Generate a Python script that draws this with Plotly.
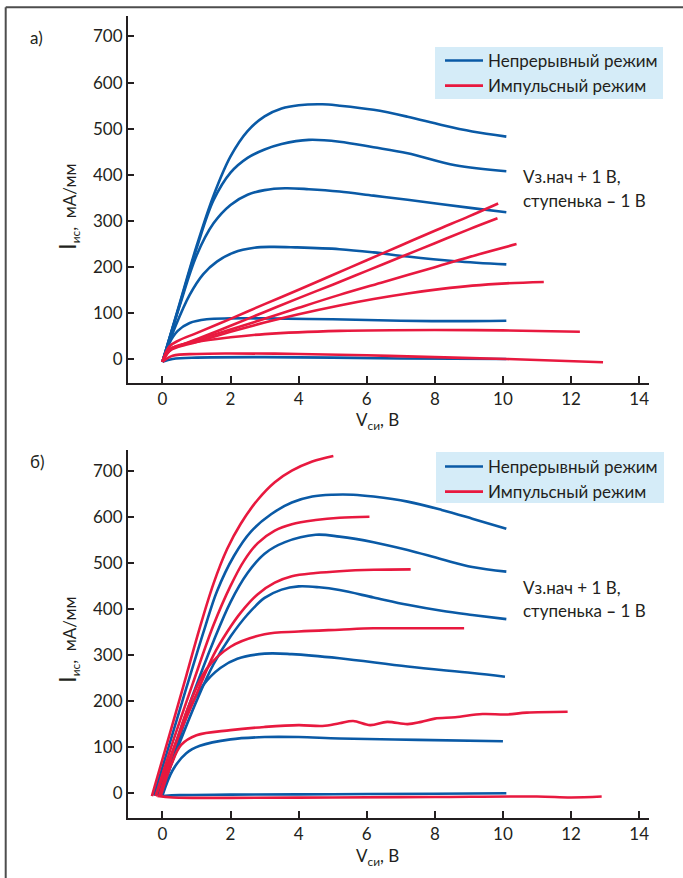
import plotly.graph_objects as go

W, H = 683, 878
BLUE = "#0a5aa6"
RED = "#e8193f"
TXT = "#231f20"
LEGBG = "#d5ecf8"
FONT = "Lato, 'Noto Sans', sans-serif"

# ---------------- data: panel а) ----------------
# continuous (CW) curves: drain voltage V, current mA/mm
a_cw_v = [
    [0, 0.5, 1.0, 1.5, 2.0, 2.5, 3.0, 3.5, 4.0, 4.7, 5.2, 6.2, 7.2, 8.2, 9.1, 10.1],
    [0, 0.5, 1.0, 1.5, 2.0, 2.5, 3.0, 3.5, 4.3, 5.2, 6.2, 7.2, 8.6, 10.1],
    [0, 0.5, 1.0, 1.5, 2.0, 2.5, 3.0, 3.6, 4.3, 5.2, 6.2, 7.2, 9.1, 10.1],
    [0, 0.4, 0.8, 1.2, 1.6, 2.1, 2.7, 3.2, 3.9, 5.2, 6.2, 7.2, 8.6, 10.1],
    [0, 0.2, 0.45, 0.8, 1.3, 2.0, 3.0, 5.0, 7.0, 8.5, 10.1],
    [0, 0.3, 1.0, 3.0, 5.0, 7.0, 10.1],
]
a_cw_i = [
    [-5, 120, 245, 355, 440, 495, 527, 544, 551, 553, 550, 541, 526, 508, 494, 483],
    [-5, 118, 240, 345, 405, 437, 455, 467, 476, 472, 460, 447, 421, 408],
    [-5, 115, 225, 295, 335, 357, 367, 371, 369, 364, 355, 346, 328, 319],
    [-5, 75, 140, 185, 212, 232, 242, 244, 243, 239, 232, 223, 213, 206],
    [-5, 35, 62, 79, 87, 89, 89, 87, 84, 83, 84],
    [-5, 1, 4, 5, 4, 2, 1],
]
# pulsed curves
a_pl_v = [
    [0, 0.2, 0.5, 1.0, 2.0, 3.0, 4.0, 5.0, 6.0, 7.0, 8.0, 9.0, 9.86],
    [0, 0.2, 0.5, 1.0, 2.0, 3.0, 4.0, 5.0, 6.0, 7.0, 8.0, 9.0, 9.84],
    [0, 0.2, 0.5, 1.0, 2.0, 3.0, 4.0, 5.2, 6.5, 8.0, 9.2, 10.4],
    [0, 0.2, 0.5, 1.0, 2.0, 3.0, 4.0, 5.2, 6.2, 7.2, 8.2, 9.1, 10.1, 11.2],
    [0, 0.3, 1.0, 2.0, 3.0, 5.2, 8.0, 10.0, 12.26],
    [0, 0.3, 1.0, 2.0, 4.0, 6.0, 8.0, 10.1, 12.94],
]
a_pl_i = [
    [-5, 28, 42, 57, 88, 120, 151, 183, 215, 247, 279, 310, 338],
    [-5, 22, 30, 44, 73, 103, 133, 162, 192, 222, 252, 282, 306],
    [-5, 20, 30, 42, 65, 88, 112, 140, 168, 200, 226, 250],
    [-5, 18, 28, 38, 60, 80, 98, 117, 131, 143, 153, 160, 165, 168],
    [-5, 25, 38, 48, 55, 62, 64, 63, 60],
    [-5, 8, 12, 13, 12, 9, 5, 1, -6],
]

# ---------------- data: panel б) ----------------
b_cw_v = [
    [-0.25, 0.2, 0.7, 1.25, 1.6, 2.1, 2.6, 3.2, 3.8, 4.4, 5.0, 5.6, 6.2, 7.2, 8.2, 9.1, 10.1],
    [-0.15, 0.3, 0.9, 1.5, 2.0, 2.5, 3.0, 3.6, 4.5, 5.2, 6.2, 7.2, 8.2, 9.1, 10.1],
    [-0.1, 0.4, 1.0, 1.5, 2.0, 2.5, 3.0, 3.5, 4.0, 4.6, 5.2, 6.2, 7.2, 8.2, 9.1, 10.1],
    [-0.05, 0.4, 0.75, 1.2, 1.7, 2.2, 3.0, 3.8, 5.2, 7.2, 9.1, 10.06],
    [0.0, 0.3, 0.7, 1.1, 2.0, 3.0, 4.0, 5.2, 7.5, 10.0],
    [0.0, 0.5, 2.0, 5.0, 8.0, 10.1],
]
b_cw_i = [
    [-5, 105, 228, 360, 438, 515, 568, 606, 631, 644, 648, 648, 644, 633, 615, 596, 574],
    [-5, 90, 215, 330, 415, 478, 520, 545, 561, 557, 545, 528, 508, 491, 481],
    [-5, 90, 200, 280, 340, 388, 424, 442, 449, 447, 441, 425, 409, 396, 387, 378],
    [-5, 95, 175, 235, 272, 292, 303, 302, 293, 275, 261, 253],
    [-5, 50, 87, 103, 117, 122, 122, 119, 116, 113],
    [-6, -4, -3, -2, -1, 0],
]
b_pl_v = [
    [-0.31, 0.2, 0.7, 1.1, 1.5, 1.9, 2.3, 2.8, 3.3, 3.8, 4.4, 5.02],
    [-0.2, 0.3, 0.9, 1.5, 2.0, 2.4, 2.8, 3.3, 3.8, 4.5, 5.2, 6.08],
    [-0.2, 0.4, 1.0, 1.5, 1.9, 2.3, 2.8, 3.3, 3.8, 4.5, 5.2, 6.2, 7.29],
    [-0.1, 0.4, 0.8, 1.3, 2.0, 3.0, 4.0, 5.2, 6.2, 7.5, 8.86],
    [-0.05, 0.25, 0.55, 1.0, 2.0, 3.0, 4.0, 4.7, 5.2, 5.6, 6.1, 6.6, 7.2, 7.6,
     8.0, 8.6, 9.4, 10.1, 10.7, 11.9],
    [-0.15, 0.3, 2.0, 5.0, 8.0, 11.0, 12.0, 12.9],
]
b_pl_i = [
    [-6, 125, 255, 360, 455, 530, 585, 637, 675, 700, 720, 732],
    [-6, 110, 240, 365, 450, 505, 543, 570, 584, 593, 598, 600],
    [-6, 110, 215, 300, 350, 392, 432, 457, 471, 478, 482, 485, 486],
    [-6, 110, 195, 270, 318, 345, 351, 355, 358, 358, 358],
    [-6, 60, 105, 126, 137, 144, 148, 146, 152, 157, 148, 155, 150, 155,
     162, 165, 172, 171, 175, 177],
    [-6, -9, -10, -9, -8, -7, -9, -7],
]

x_ticks = [0, 2, 4, 6, 8, 10, 12, 14]
y_ticks = [0, 100, 200, 300, 400, 500, 600, 700]
series_names = ["Непрерывный режим", "Импульсный режим"]

fig = go.Figure()


def add_panel(cw_v, cw_i, pl_v, pl_i, xa, ya, leg):
    for k, (xs, ys) in enumerate(zip(cw_v, cw_i)):
        fig.add_trace(go.Scatter(
            x=xs, y=ys, mode="lines", xaxis=xa, yaxis=ya,
            line=dict(color=BLUE, width=2.6, shape="spline", smoothing=1.0),
            name=series_names[0], legendgroup=leg + "cw", showlegend=(k == 0),
            legend=leg, hoverinfo="skip"))
    for k, (xs, ys) in enumerate(zip(pl_v, pl_i)):
        fig.add_trace(go.Scatter(
            x=xs, y=ys, mode="lines", xaxis=xa, yaxis=ya,
            line=dict(color=RED, width=2.6, shape="spline", smoothing=1.0),
            name=series_names[1], legendgroup=leg + "pl", showlegend=(k == 0),
            legend=leg, hoverinfo="skip"))


add_panel(a_cw_v, a_cw_i, a_pl_v, a_pl_i, "x", "y", "legend")
add_panel(b_cw_v, b_cw_i, b_pl_v, b_pl_i, "x2", "y2", "legend2")

axis_common = dict(
    showline=True, linecolor=TXT, linewidth=1.5, ticks="inside", ticklen=7,
    tickwidth=1.5, tickcolor=TXT, showgrid=False, zeroline=False,
    tickfont=dict(size=17, color=TXT, family=FONT),
)

legend_common = dict(xanchor="left", yanchor="top", bgcolor="rgba(0,0,0,0)",
                     borderwidth=0, itemwidth=38, tracegroupgap=0,
                     font=dict(size=17, color=TXT, family=FONT))

xdom = [127.7 / W, 649 / W]
fig.update_layout(
    width=W, height=H, margin=dict(l=0, r=0, t=0, b=0),
    paper_bgcolor="white", plot_bgcolor="white",
    font=dict(family=FONT, color=TXT),
    xaxis=dict(domain=xdom, range=[-1.02, 14.29], tickvals=x_ticks, anchor="y", **axis_common),
    yaxis=dict(domain=[1 - 383 / H, 1 - 15.7 / H], range=[-51, 745], tickvals=y_ticks,
               anchor="x", **axis_common),
    xaxis2=dict(domain=xdom, range=[-1.02, 14.29], tickvals=x_ticks, anchor="y2", **axis_common),
    yaxis2=dict(domain=[1 - 817.7 / H, 1 - 450 / H], range=[-53, 745], tickvals=y_ticks,
                anchor="x2", **axis_common),
    legend=dict(x=440 / W, y=1 - 43 / H, **legend_common),
    legend2=dict(x=440 / W, y=1 - 449 / H, **legend_common),
    showlegend=True,
)

# legend background boxes
for (x0, y0, x1, y1) in [(435, 47, 663, 99), (436, 452, 664, 503)]:
    fig.add_shape(type="rect", xref="paper", yref="paper", layer="below",
                  x0=x0 / W, x1=x1 / W, y0=1 - y1 / H, y1=1 - y0 / H,
                  fillcolor=LEGBG, line=dict(width=0))

annots = []


def txt(x, y, s, size=17, xanchor="center", angle=0):
    annots.append(dict(x=x / W, y=1 - y / H, xref="paper", yref="paper", text=s,
                       showarrow=False, xanchor=xanchor, yanchor="middle",
                       textangle=angle, font=dict(size=size, color=TXT, family=FONT)))


ytitle = '<span style="font-size:24px">I</span><sub>ис</sub>,  мА/мм'
# panel labels
txt(28, 37, "а)", xanchor="left")
txt(28, 461, "б)", xanchor="left")
# axis titles
txt(67, 207, ytitle, angle=-90)
txt(67, 640, ytitle, angle=-90)
txt(377, 421, "V<sub>си</sub>, В")
txt(377, 857, "V<sub>си</sub>, В")
# notes
txt(521, 177, "Vз.нач + 1 В,", size=17, xanchor="left")
txt(521, 200, "ступенька <b>–</b> 1 В", size=17, xanchor="left")
txt(521, 587, "Vз.нач + 1 В,", size=17, xanchor="left")
txt(521, 610, "ступенька <b>–</b> 1 В", size=17, xanchor="left")
fig.update_layout(annotations=annots)

# frame (top and left edges)
fx, fy = 5.7 / W, 1 - 7.3 / H
fig.add_shape(type="line", xref="paper", yref="paper", x0=fx, y0=fy, x1=1.0, y1=fy,
              line=dict(color="#4d4d4d", width=2))
fig.add_shape(type="line", xref="paper", yref="paper", x0=fx, y0=fy, x1=fx, y1=0.0,
              line=dict(color="#4d4d4d", width=2))

fig.write_html("out.html")
